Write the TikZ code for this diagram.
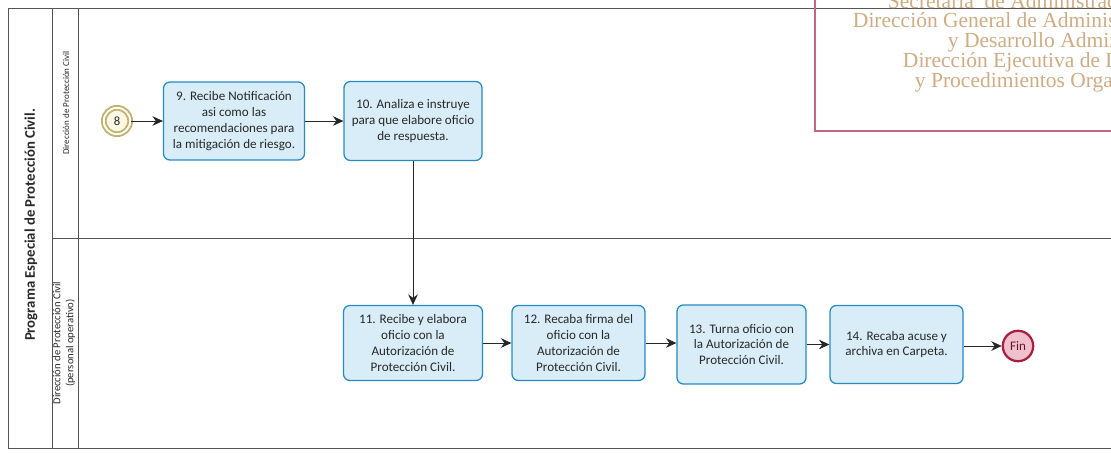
\documentclass[tikz,border=0pt]{standalone}
\usepackage{fontspec}
\setmainfont{Carlito}
\newfontfamily\stampfont{Liberation Serif}
\usepackage{xcolor}
\usetikzlibrary{arrows.meta}

\definecolor{taskfill}{RGB}{216,237,247}
\definecolor{taskline}{RGB}{38,138,198}
\definecolor{ringcol}{RGB}{192,176,104}
\definecolor{ringfill}{RGB}{251,247,228}
\definecolor{finline}{RGB}{168,32,62}
\definecolor{finfill}{RGB}{240,192,206}
\definecolor{stampline}{RGB}{190,104,132}
\definecolor{stamptext}{RGB}{206,172,132}
\definecolor{framecol}{RGB}{85,85,85}
\definecolor{textcol}{RGB}{40,40,40}

\begin{document}
\begin{tikzpicture}[x=0.25mm,y=-0.25mm,
	task/.style={draw=taskline,fill=taskfill,line width=0.9pt,rounded corners=1.6mm,
		align=center,text=textcol,inner sep=1pt,font=\fontsize{9.3}{11.3}\selectfont},
	flow/.style={-{Stealth[length=2.6mm,width=2.4mm]},line width=0.55pt,black!85},
	frame/.style={framecol,line width=0.6pt},
	lanelabel/.style={rotate=90,align=center,text=textcol},
	stamp/.style={anchor=base west,text=stamptext,font=\stampfont\fontsize{15.3}{17}\selectfont}]

\useasboundingbox (0,0) rectangle (1111,453);


\draw[frame] (1111,8)--(8,8)--(8,448)--(1111,448);% pool
\draw[frame] (52,8)--(52,448);
\draw[frame] (78,8)--(78,448);
\draw[frame] (52,238)--(1111,238);% lanes


\draw[stampline,line width=0.9pt] (815,-10)--(815,131)--(1120,131);% stamp

\node[stamp] (s1) at (883,8) {Secretaría\ \ de Administrac};
\node[stamp] (s2) at (848,27) {Dirección General de Adminis};
\node[stamp] (s3) at (943,47) {y Desarrollo Admin};
\node[stamp] (s4) at (898,67) {Dirección Ejecutiva de D};
\node[stamp] (s5) at (910,87) {y Procedimientos Orga};


\node[rotate=90,text=textcol,font=\bfseries\fontsize{10.5}{12}\selectfont] (pool) at (31,225) {Programa Especial de Protección Civil.};
\node[lanelabel,font=\fontsize{6.4}{7.6}\selectfont] (lane1) at (66,103) {Dirección de Protección Civil};
\node[lanelabel,font=\fontsize{7.6}{9.2}\selectfont] (lane2) at (64,343) {Dirección de Protección Civil\\(personal operativo)};


\node[circle,draw=ringcol,double=white,double distance=1.4pt,line width=1.3pt,fill=ringfill,
	minimum size=6.6mm,inner sep=0pt,text=textcol,font=\fontsize{9}{11}\selectfont] (ev8) at (117,121) {8};

\node[task,minimum width=35.25mm,minimum height=19.5mm] (t9) at (234,121) {9. Recibe Notificación\\asi como las\\recomendaciones para\\la mitigación de riesgo.};
\node[task,minimum width=34.5mm,minimum height=19.75mm] (t10) at (413,121) {10. Analiza e instruye\\para que elabore oficio\\de respuesta.};

\node[task,minimum width=34.75mm,minimum height=18.75mm] (t11) at (413,343) {11. Recibe y elabora\\oficio con la\\Autorización de\\Protección Civil.};
\node[task,minimum width=33.25mm,minimum height=18.75mm] (t12) at (578.5,343) {12. Recaba firma del\\oficio con la\\Autorización de\\Protección Civil.};
\node[task,minimum width=32.25mm,minimum height=19.75mm] (t13) at (741.5,344.5) {13. Turna oficio con\\la Autorización de\\Protección Civil.};
\node[task,minimum width=33.25mm,minimum height=19.5mm] (t14) at (896.5,344.5) {14. Recaba acuse y\\archiva en Carpeta.};

\node[circle,draw=finline,fill=finfill,line width=1.6pt,minimum size=7.6mm,inner sep=0pt,
	text=finline!60!black,font=\fontsize{9.3}{11}\selectfont] (fin) at (1018,346) {Fin};


\draw[flow] (ev8)--(t9);
\draw[flow] (t9)--(t10);
\draw[flow] (t10)--(t11);
\draw[flow] (t11)--(t12);
\draw[flow] (t12.east)--(t12.east -| t13.west);
\draw[flow] (t13)--(t14);
\draw[flow] (t14.east |- fin)--(fin);


\end{tikzpicture}
\end{document}
